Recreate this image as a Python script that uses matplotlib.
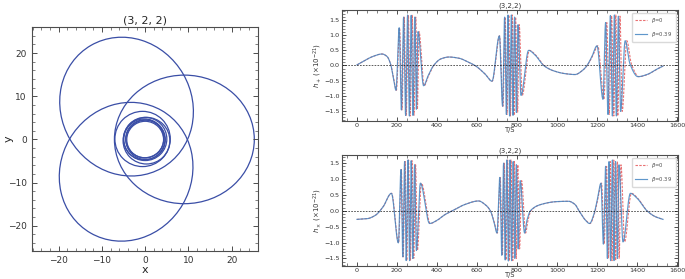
import numpy as np
import matplotlib
matplotlib.use("Agg")
import matplotlib.pyplot as plt
from matplotlib.patches import Ellipse, Circle
from matplotlib.ticker import AutoMinorLocator

# ---------------------- ORBITA (3, 2, 2) -------------------------
# tres folhas (elipses)
folha_cx = [-4.3, 9.05, -4.4]
folha_cy = [7.6, 0.0, -7.5]
folha_larg = [32.8, 32.3, 32.8]
folha_alt = [30.2, 29.8, 30.2]
folha_ang = [120, 0, 240]

# aneis do "whirl" perto do centro
anel_cx = [-0.6, 0.3, 0.0, -0.2, 0.1, -0.1, 0.0]
anel_cy = [0.1, -0.3, 0.1, 0.0, -0.1, 0.15, -0.05]
anel_r = [6.4, 5.4, 5.0, 4.75, 4.55, 4.4, 4.25]

# ---------------------- ONDAS h+ e hx -------------------------
# nos (tempo, amplitude) lidos nos extremos das curvas
hp_t_b039 = [0, 40, 80, 125, 150, 168, 183, 195, 211, 222, 233, 243, 253, 262, 271, 280, 289, 297, 305,
             333, 355, 383, 420, 460, 510, 560, 590, 640, 675, 712, 728, 738, 747, 755, 763, 772, 780, 788,
             797, 805, 820, 858, 890, 933, 980, 1040, 1090, 1130, 1150, 1175, 1200, 1230, 1243, 1255, 1267,
             1277, 1287, 1297, 1307, 1318, 1341, 1365, 1405, 1450, 1500, 1530]
hp_t_b0 = [0, 40, 80, 125, 150, 168, 184, 197, 213, 225, 236, 246, 257, 266, 276, 285, 294, 302, 310,
           336, 357, 384, 420, 460, 510, 560, 590, 640, 676, 713, 730, 741, 750, 759, 767, 777, 785, 793,
           803, 811, 826, 862, 893, 935, 980, 1040, 1090, 1130, 1151, 1177, 1204, 1235, 1249, 1261, 1273,
           1284, 1294, 1304, 1315, 1326, 1349, 1372, 1410, 1452, 1500, 1530]
hp_h = [0.02, 0.17, 0.30, 0.38, 0.30, 0.05, -0.45, -0.82, 1.25, -1.47, 1.60, -1.65, 1.67, -1.67, 1.66,
        -1.65, 1.60, -1.45, 1.12, -0.67, -0.35, 0.00, 0.22, 0.28, 0.24, 0.10, 0.00, -0.28, -0.52, 0.98,
        -1.35, 1.60, -1.62, 1.67, -1.67, 1.67, -1.65, 1.60, -1.55, 1.35, -0.99, 0.50, 0.35, 0.00, -0.17,
        -0.27, -0.30, -0.15, 0.00, 0.30, 0.65, -1.12, 1.42, -1.62, 1.65, -1.67, 1.67, -1.67, 1.63, -1.52,
        0.82, 0.05, -0.37, -0.30, -0.12, -0.02]

hx_t_b039 = [0, 50, 90, 130, 172, 207, 220, 229, 238, 246, 255, 263, 271, 279, 288, 297, 317, 363, 400,
             440, 483, 540, 608, 640, 667, 685, 700, 714, 724, 733, 741, 749, 757, 765, 773, 781, 789, 797,
             806, 816, 838, 850, 867, 920, 1000, 1058, 1090, 1110, 1140, 1163, 1185, 1200, 1220, 1232,
             1243, 1252, 1260, 1268, 1277, 1285, 1293, 1302, 1310, 1330, 1367, 1400, 1450, 1490, 1530]
hx_t_b0 = [0, 50, 90, 130, 173, 208, 222, 231, 241, 249, 258, 267, 275, 284, 293, 302, 322, 366, 401,
           440, 483, 540, 608, 640, 667, 686, 702, 716, 727, 736, 745, 753, 762, 770, 779, 787, 796, 804,
           813, 823, 843, 855, 870, 920, 1000, 1058, 1090, 1110, 1141, 1165, 1187, 1202, 1223, 1236,
           1248, 1257, 1266, 1275, 1284, 1293, 1302, 1311, 1320, 1338, 1372, 1403, 1450, 1490, 1530]
hx_h = [-0.27, -0.25, -0.15, 0.12, 0.55, -1.01, 1.30, -1.45, 1.55, -1.57, 1.60, -1.57, 1.58, -1.50, 1.45,
        -1.25, 0.87, -0.40, -0.30, -0.12, 0.02, 0.20, 0.31, 0.20, 0.00, -0.35, -0.70, 1.05, -1.40, 1.50,
        -1.55, 1.60, -1.58, 1.60, -1.57, 1.55, -1.50, 1.45, -1.20, 0.95, -0.70, -0.30, 0.00, 0.20, 0.29,
        0.30, 0.20, 0.00, -0.28, -0.40, -0.10, 0.30, 0.87, -1.05, 1.40, -1.50, 1.55, -1.57, 1.60, -1.57,
        1.55, -1.50, 1.45, -0.98, 0.55, 0.40, 0.00, -0.18, -0.27]

titulo_orbita = "(3, 2, 2)"
titulo_onda = "(3,2,2)"
rotulos_beta = [r"$\beta$=0", r"$\beta$=0.39"]

COR_ORBITA = "#3a4ea6"
COR_B0 = "#e44d4f"
COR_B039 = "#4385c2"


# ---------------------- CURVA SUAVE PELOS NOS (pchip) -------------------------
def pchip(x, y, xn):
    x = np.asarray(x, float)
    y = np.asarray(y, float)
    h = np.diff(x)
    d = np.diff(y) / h
    m = np.zeros_like(y)
    m[0], m[-1] = d[0], d[-1]
    for k in range(1, len(x) - 1):
        if d[k - 1] * d[k] > 0:
            w1 = 2 * h[k] + h[k - 1]
            w2 = h[k] + 2 * h[k - 1]
            m[k] = (w1 + w2) / (w1 / d[k - 1] + w2 / d[k])
    i = np.clip(np.searchsorted(x, xn) - 1, 0, len(x) - 2)
    s = (xn - x[i]) / h[i]
    h00 = 2 * s**3 - 3 * s**2 + 1
    h10 = s**3 - 2 * s**2 + s
    h01 = -2 * s**3 + 3 * s**2
    h11 = s**3 - s**2
    return h00 * y[i] + h10 * h[i] * m[i] + h01 * y[i + 1] + h11 * h[i] * m[i + 1]


def estilo(ax, tam):
    ax.xaxis.set_minor_locator(AutoMinorLocator())
    ax.yaxis.set_minor_locator(AutoMinorLocator())
    ax.tick_params(which="both", direction="in", top=True, right=True, colors="0.3",
                   labelcolor="0.2", labelsize=tam)
    ax.tick_params(which="major", length=3.5, width=0.7)
    ax.tick_params(which="minor", length=2, width=0.5)
    for sp in ax.spines.values():
        sp.set_color("0.3")
        sp.set_linewidth(0.8)


fig = plt.figure(figsize=(6.85, 2.79), dpi=100)

# ---------------------- PAINEL DA ORBITA -------------------------
ax0 = fig.add_axes([0.0463, 0.1014, 0.330, 0.801])
for cx, cy, w, hh, a in zip(folha_cx, folha_cy, folha_larg, folha_alt, folha_ang):
    ax0.add_patch(Ellipse((cx, cy), w, hh, angle=a, fill=False, ec=COR_ORBITA, lw=0.9))
for cx, cy, r in zip(anel_cx, anel_cy, anel_r):
    ax0.add_patch(Circle((cx, cy), r, fill=False, ec=COR_ORBITA, lw=0.9))
ax0.set_xlim(-26.2, 26)
ax0.set_ylim(-25.8, 26)
ax0.set_title(titulo_orbita, fontsize=8, pad=3, color="0.15")
ax0.set_xlabel("x", fontsize=8, labelpad=0, color="0.15")
ax0.set_ylabel("y", fontsize=8, color="0.15")
ax0.yaxis.set_label_coords(-0.08, 0.5)
estilo(ax0, 6.5)

# ---------------------- PAINEIS DAS ONDAS -------------------------
tt = np.linspace(0, 1530, 6000)
paineis = [
    ([0.4988, 0.5663, 0.4914, 0.398], hp_t_b0, hp_t_b039, hp_h, r"$h_+$ $(\times10^{-21})$"),
    ([0.4988, 0.0466, 0.4914, 0.398], hx_t_b0, hx_t_b039, hx_h, r"$h_\times$ $(\times10^{-21})$"),
]
for pos, t_b0, t_b039, hv, ylab in paineis:
    ax = fig.add_axes(pos)
    ax.plot(tt, pchip(t_b0, hv, tt), ls="--", dashes=(2.2, 1.2), color=COR_B0, lw=0.8,
            alpha=0.8, label=rotulos_beta[0])
    ax.plot(tt, pchip(t_b039, hv, tt), color=COR_B039, lw=0.85, alpha=0.85, label=rotulos_beta[1])
    ax.axhline(0, color="k", ls="--", lw=0.6, alpha=0.75, dashes=(2, 1.5))
    ax.set_xlim(-76.5, 1606.5)
    ax.set_xticks([0, 200, 400, 600, 800, 1000, 1200, 1400, 1600])
    ax.set_yticks([-1.5, -1.0, -0.5, 0.0, 0.5, 1.0, 1.5])
    ax.set_title(titulo_onda, fontsize=5, pad=2, color="0.2")
    ax.set_xlabel("T/S", fontsize=4.8, labelpad=-0.5, color="0.2")
    ax.set_ylabel(ylab, fontsize=5, color="0.2")
    ax.yaxis.set_label_coords(-0.054, 0.5)
    estilo(ax, 4.6)
    ax.tick_params(which="major", length=3, pad=1.5)
    leg = ax.legend(loc="upper right", fontsize=3.8, handlelength=2.3, borderpad=0.6,
                    labelspacing=0.9, framealpha=1, edgecolor="0.85", fancybox=True)
    for txt in leg.get_texts():
        txt.set_color("0.3")

plt.savefig("out.png", dpi=100)
